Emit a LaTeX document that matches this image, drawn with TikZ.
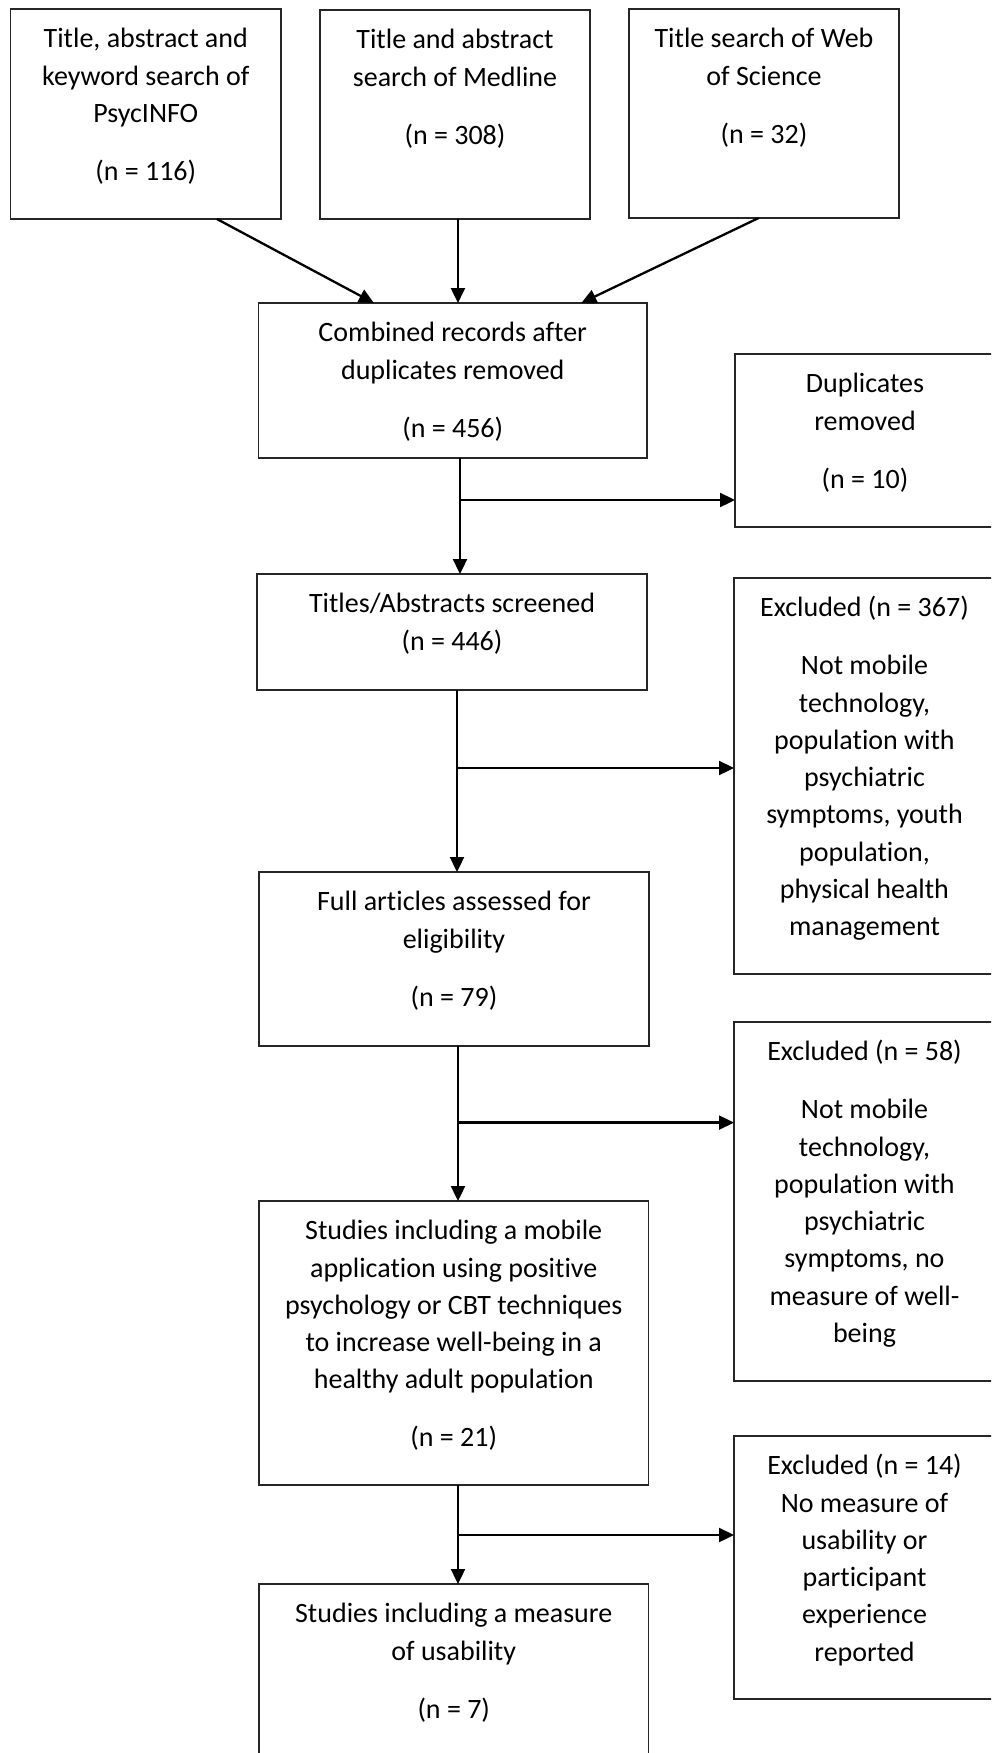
\documentclass[tikz,border=0pt]{standalone}
\usepackage{fontspec}
\setmainfont{Carlito}[Ligatures={NoCommon,NoContextual,NoRequired},RawFeature={-calt}]
\usetikzlibrary{arrows.meta,calc}
% box given by its corners: name, x1, y1, x2, y2 (y grows downwards)
\newcommand\flowbox[5]{%
  \node[box, minimum width={#4-#2}, minimum height={#5-#3}] (#1) at ({(#2+#4)/2},{(#3+#5)/2}) {};}
\newcommand\gap{\\[20.7pt]}
% keeps "t" and "i" as separate glyphs
\newcommand\brk{\kern0pt}
\begin{document}
\begin{tikzpicture}[x=1pt,y=-1pt,
  box/.style={draw=black!85, line width=1.4pt, rectangle, inner sep=0pt, outer sep=0pt},
  txt/.style={anchor=north, inner sep=0pt, align=center, yshift=-12.4pt,
              font=\fontsize{28}{37.3}\selectfont},
  arr/.style={line width=2.3pt, -{Triangle[length=15pt,width=14pt]}}]
\useasboundingbox (0,0) rectangle (991,1753);
\clip (0,0) rectangle (991,1753);

% boxes
\flowbox{src1}{10.5}{9}{281}{219}
\flowbox{src2}{320}{10}{590}{219}
\flowbox{src3}{629}{9}{899}{218}
\flowbox{comb}{258.5}{303}{647}{458}
\flowbox{dup}{735}{354}{995}{527}
\flowbox{scr}{257}{574}{647}{690}
\flowbox{exc1}{734}{578}{995}{974}
\flowbox{full}{259}{872}{649}{1046}
\flowbox{exc2}{734}{1022}{995}{1381}
\flowbox{stud}{259}{1201}{648.5}{1485}
\flowbox{exc3}{734}{1436}{995}{1699}
\flowbox{fin}{259}{1584}{648.5}{1800}

% texts
\node[txt] (src1t) at (src1.north) {\strut Title, abstract and\\ keyword search of\\ PsycINFO\gap (n = 116)};
\node[txt] (src2t) at (src2.north) {\strut Title and abstract\\ search of Medline\gap (n = 308)};
\node[txt] (src3t) at (src3.north) {\strut Title search of Web\\ of Science\gap (n = 32)};
\node[txt] (combt) at (comb.north) {\strut Combined records after\\ duplicates removed\gap (n = 456)};
\node[txt] (dupt) at (dup.north) {\strut Duplicates\\ removed\gap (n = 10)};
\node[txt] (scrt) at (scr.north) {\strut Titles/Abstracts screened\\ (n = 446)};
\node[txt] (exc1t) at (exc1.north) {\strut Excluded (n = 367)\gap Not mobile\\ technology,\\ populat\brk ion with\\ psychiatric\\ symptoms, youth\\ populat\brk ion,\\ physical health\\ management};
\node[txt] (fullt) at (full.north) {\strut Full art\brk icles assessed for\\ eligibility\gap (n = 79)};
\node[txt] (exc2t) at (exc2.north) {\strut Excluded (n = 58)\gap Not mobile\\ technology,\\ populat\brk ion with\\ psychiatric\\ symptoms, no\\ measure of well-\\ being};
\node[txt] (studt) at (stud.north) {\strut Studies including a mobile\\ applicat\brk ion using posit\brk ive\\ psychology or CBT techniques\\ to increase well-being in a\\ healthy adult populat\brk ion\gap (n = 21)};
\node[txt] (exc3t) at (exc3.north) {\strut Excluded (n = 14)\\ No measure of\\ usability or\\ part\brk icipant\\ experience\\ reported};
\node[txt] (fint) at (fin.north) {\strut Studies including a measure\\ of usability\gap (n = 7)};

% merging the three searches
\draw[arr] ($(src1.south west)!0.763!(src1.south east)$) -- ($(comb.north west)!0.297!(comb.north east)$);
\draw[arr] ($(src2.south west)!0.511!(src2.south east)$) coordinate (m2) -- (m2 |- comb.north);
\draw[arr] ($(src3.south west)!0.480!(src3.south east)$) -- ($(comb.north west)!0.831!(comb.north east)$);

% main flow with side branches
\coordinate (j1) at (460,500);
\coordinate (j2) at (457,768);
\coordinate (j3) at (458,1122.6);
\coordinate (j4) at (458,1535);

\draw[arr] (comb.south -| j1) -- (scr.north -| j1);
\draw[arr] (j1) -- (j1 -| dup.west);

\draw[arr] (scr.south -| j2) -- (full.north -| j2);
\draw[arr] (j2) -- (j2 -| exc1.west);

\draw[arr] (full.south -| j3) -- (stud.north -| j3);
\draw[arr] (j3) -- (j3 -| exc2.west);

\draw[arr] (stud.south -| j4) -- (fin.north -| j4);
\draw[arr] (j4) -- (j4 -| exc3.west);
\end{tikzpicture}
\end{document}
